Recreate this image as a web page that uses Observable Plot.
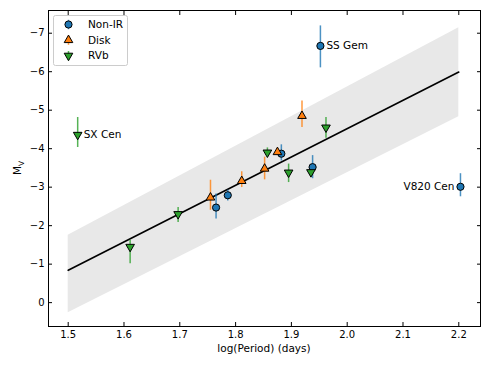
<!DOCTYPE html>
<html><head><meta charset="utf-8">
<script src="https://cdn.jsdelivr.net/npm/d3@7"></script>
<script src="https://cdn.jsdelivr.net/npm/@observablehq/plot@0.6"></script>
<style>body{margin:0;background:#fff} svg{display:block}</style>
</head><body><div id="chart"></div>
<script>
// ---- data ----
const seriesNames = ["Non-IR", "Disk", "RVb"];
const seriesColors = ["#1f77b4", "#ff7f0e", "#2ca02c"];

const nonIrLogP = [1.765, 1.786, 1.882, 1.938, 1.952, 2.203];
const nonIrMv   = [-2.47, -2.79, -3.87, -3.52, -6.67, -3.01];
const nonIrTop  = [-2.82, -2.92, -4.10, -3.82, -7.19, -3.35];
const nonIrBot  = [-2.17, -2.64, -3.68, -3.22, -6.10, -2.75];

const diskLogP = [1.755, 1.811, 1.852, 1.875, 1.919];
const diskMv   = [-2.73, -3.16, -3.48, -3.91, -4.85];
const diskTop  = [-3.18, -3.40, -3.78, -4.02, -5.24];
const diskBot  = [-2.40, -2.99, -3.19, -3.82, -4.55];

const rvbLogP = [1.517, 1.611, 1.697, 1.857, 1.895, 1.935, 1.962];
const rvbMv   = [-4.36, -1.45, -2.30, -3.90, -3.38, -3.39, -4.55];
const rvbTop  = [-4.81, -1.62, -2.47, -4.02, -3.60, -3.50, -4.81];
const rvbBot  = [-4.03, -1.01, -2.08, -3.85, -3.12, -3.28, -4.27];

const fitLogP = [1.5, 2.2];
const fitMv   = [-0.84, -5.99];
const bandTop = [-1.75, -7.14];
const bandBot = [0.26, -4.83];

const labelNames = ["SS Gem", "SX Cen", "V820 Cen"];
const labelLogP  = [1.952, 1.517, 2.203];
const labelMv    = [-6.67, -4.36, -3.01];

const xTicks = [1.5, 1.6, 1.7, 1.8, 1.9, 2.0, 2.1, 2.2];
const yTicks = [0, -1, -2, -3, -4, -5, -6, -7];

// ---- build tables ----
const mk = (name, lp, mv, top, bot) => lp.map((x, i) => ({series: name, x, y: mv[i], y1: top[i], y2: bot[i]}));
const pts = [
  ...mk("Non-IR", nonIrLogP, nonIrMv, nonIrTop, nonIrBot),
  ...mk("Disk", diskLogP, diskMv, diskTop, diskBot),
  ...mk("RVb", rvbLogP, rvbMv, rvbTop, rvbBot)
];
const band = fitLogP.map((x, i) => ({x, y1: bandTop[i], y2: bandBot[i]}));
const fit = fitLogP.map((x, i) => ({x, y: fitMv[i]}));
const labels = labelNames.map((t, i) => ({t, x: labelLogP[i], y: labelMv[i]}));

const colorOf = s => seriesColors[seriesNames.indexOf(s)];

const chart = Plot.plot({
  width: 491, height: 367,
  marginLeft: 48, marginRight: 11, marginTop: 10, marginBottom: 41,
  style: {fontFamily: "DejaVu Sans", fontSize: "10px", background: "white", color: "black"},
  x: {domain: [1.4647, 2.2389]},
  y: {domain: [0.62, -7.59]},
  marks: [
    Plot.areaY(band, {x: "x", y1: "y1", y2: "y2", fill: "#e8e8e8"}),
    Plot.line(fit, {x: "x", y: "y", stroke: "black", strokeWidth: 1.6}),
    Plot.ruleX(pts, {x: "x", y1: "y1", y2: "y2", stroke: d => colorOf(d.series), strokeWidth: 1.5, strokeOpacity: 0.8}),
    Plot.dot(pts.filter(d => d.series === "Non-IR"), {x: "x", y: "y", r: 3.6, fill: seriesColors[0], stroke: "black", strokeWidth: 1, symbol: "circle"}),
    Plot.dot(pts.filter(d => d.series === "Disk"), {x: "x", y: "y", r: 3.2, fill: seriesColors[1], stroke: "black", strokeWidth: 1, symbol: "triangle"}),
    Plot.dot(pts.filter(d => d.series === "RVb"), {x: "x", y: "y", r: 3.2, fill: seriesColors[2], stroke: "black", strokeWidth: 1, symbol: "triangle", rotate: 180}),
    Plot.text(labels.filter(d => d.t !== "V820 Cen"), {x: "x", y: "y", text: "t", textAnchor: "start", dx: 6, fontSize: 10.5}),
    Plot.text(labels.filter(d => d.t === "V820 Cen"), {x: "x", y: "y", text: "t", textAnchor: "end", dx: -6, fontSize: 10.5}),
    Plot.frame({stroke: "black", strokeWidth: 1}),
    Plot.axisX({ticks: xTicks, tickSize: -4, tickPadding: 8, tickFormat: d3.format(".1f"), label: null}),
    Plot.axisX({anchor: "top", ticks: xTicks, tickSize: -4, tickFormat: () => "", label: null}),
    Plot.axisY({ticks: yTicks, tickSize: -4, tickPadding: 8, tickFormat: d3.format("d"), label: null}),
    Plot.axisY({anchor: "right", ticks: yTicks, tickSize: -4, tickFormat: () => "", label: null})
  ]
});

const svg = d3.select(chart);
// axis labels
svg.append("text").attr("x", 264).attr("y", 352).attr("text-anchor", "middle")
  .attr("font-size", 10.5).attr("fill", "black").text("log(Period) (days)");
const yl = svg.append("text").attr("transform", "translate(21,168) rotate(-90)")
  .attr("text-anchor", "middle").attr("font-size", 10.5).attr("fill", "black");
yl.append("tspan").text("M");
yl.append("tspan").attr("font-size", 7.5).attr("dy", 2.5).text("V");

// legend
const lg = svg.append("g").attr("text-anchor", "start");
lg.append("rect").attr("x", 53.5).attr("y", 15.5).attr("width", 74).attr("height", 50).attr("rx", 2)
  .attr("fill", "white").attr("fill-opacity", 0.8).attr("stroke", "#cccccc");
const syms = [d3.symbolCircle, d3.symbolTriangle, d3.symbolTriangle];
const rots = [0, 0, 180];
const sizes = [Math.PI * 3.6 * 3.6, Math.PI * 3.2 * 3.2, Math.PI * 3.2 * 3.2];
seriesNames.forEach((name, i) => {
  const cy = 24.5 + i * 15.6;
  lg.append("line").attr("x1", 68.5).attr("x2", 68.5).attr("y1", cy - 4.7).attr("y2", cy + 4.7)
    .attr("stroke", seriesColors[i]).attr("stroke-width", 1.5).attr("stroke-opacity", 0.8);
  lg.append("path").attr("d", d3.symbol(syms[i], sizes[i])())
    .attr("transform", `translate(68.5,${cy}) rotate(${rots[i]})`)
    .attr("fill", seriesColors[i]).attr("stroke", "black").attr("stroke-width", 1);
  lg.append("text").attr("x", 88).attr("y", cy).attr("dy", "0.35em").attr("font-size", 10.5)
    .attr("text-anchor", "start").attr("fill", "black").text(name);
});

document.getElementById("chart").appendChild(chart);
</script>
</body></html>
